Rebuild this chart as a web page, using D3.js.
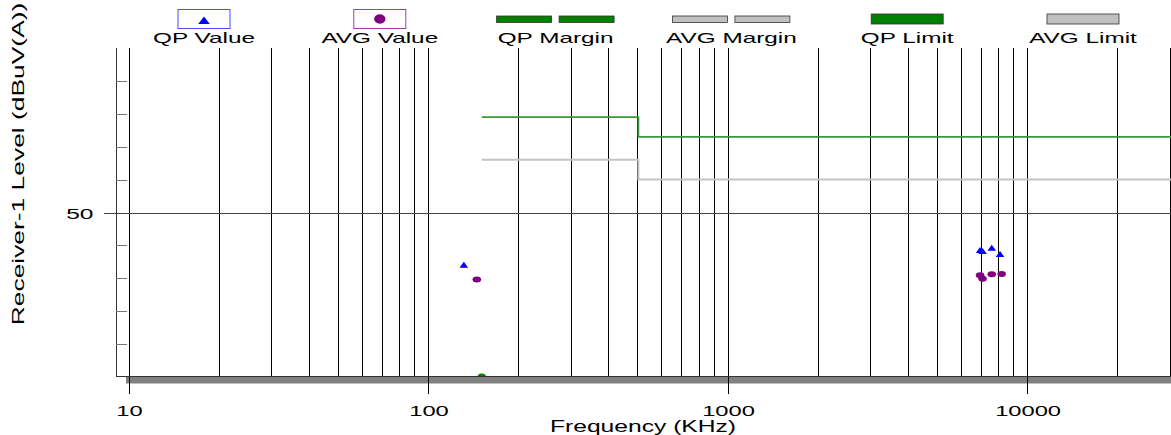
<!DOCTYPE html>
<html>

<head>
  <meta charset="utf-8">
  <title>Receiver level</title>
  <style>
    body {
      margin: 0;
      background-color: #fff;
      font-family: 'Liberation Sans', Arial, sans-serif;
    }

    svg text {
      fill: #000;
    }

    .grid line {
      stroke: #000;
      stroke-width: 1px;
      shape-rendering: crispEdges;
    }

    .limit {
      fill: none;
    }
  </style>
</head>

<body>
  <div id="chart"></div>
  <script src="https://d3js.org/d3.v7.min.js"></script>

  <script>
    // frequency in KHz, level in dBuV(A)
    var qpFreq = [130.7, 6914, 7048, 7563, 8060];
    var qpLevel = [34.1, 38.6, 38.3, 39.3, 37.4];

    var avgFreq = [144.4, 6914, 7048, 7563, 8160];
    var avgLevel = [29.6, 30.9, 29.9, 31.2, 31.3];

    var marginFreq = [150];
    var marginLevel = [0];

    // limit lines (step at 500 KHz)
    var limitFreq = [150, 500, 500, 30000];
    var qpLimit = [79, 79, 73, 73];
    var avgLimit = [66, 66, 60, 60];

    var xTickLabels = [10, 100, 1000, 10000];
    var yTickLabels = [50];
    var yMinorTicks = [10, 20, 30, 40, 60, 70, 80, 90];

    var legendLabels = ['QP Value', 'AVG Value', 'QP Margin', 'AVG Margin', 'QP Limit', 'AVG Limit'];

    var width = 1171,
      height = 435;

    // the text in the picture is drawn wide
    var stretch = 1.58;

    var svg = d3.select("#chart").append("svg")
      .attr("width", width)
      .attr("height", height);

    var x = d3.scaleLog()
      .domain([9, 30000])
      .range([115.8, 1171]);

    var y = d3.scaleLinear()
      .domain([0, 100])
      .range([377, 48]);

    // every 1..9 step of each decade gets a grid line
    var gridFreqs = [];
    xTickLabels.forEach(function(d) {
      for (var m = 1; m <= 9; m++) {
        if (d * m <= 30000) gridFreqs.push(d * m);
      }
    });

    // ****************** grid ***************************
    var grid = svg.append("g").attr("class", "grid");

    grid.selectAll("line.v")
      .data(gridFreqs)
      .enter().append("line")
      .attr("class", "v")
      .attr("x1", function(d) { return Math.round(x(d)) - 0.5; })
      .attr("x2", function(d) { return Math.round(x(d)) - 0.5; })
      .attr("y1", y(100))
      .attr("y2", y(0));

    grid.selectAll("line.h")
      .data(yTickLabels)
      .enter().append("line")
      .attr("class", "h")
      .style("stroke", "#444")
      .attr("x1", 104)
      .attr("x2", width)
      .attr("y1", function(d) { return Math.round(y(d)) + 0.5; })
      .attr("y2", function(d) { return Math.round(y(d)) + 0.5; });

    // ****************** limits ***************************
    var line = d3.line()
      .x(function(d) { return x(d[0]); })
      .y(function(d) { return y(d[1]); });

    svg.append("path")
      .attr("class", "limit")
      .attr("d", line(d3.zip(limitFreq, avgLimit)))
      .style("stroke", "#c4c4c4")
      .style("stroke-width", 2);

    svg.append("path")
      .attr("class", "limit")
      .attr("d", line(d3.zip(limitFreq, qpLimit)))
      .style("stroke", "#3a9a3a")
      .style("stroke-width", 1.8);

    // ****************** markers ***************************
    var tri = "M-4.3,3L4.3,3L0,-3Z";

    svg.selectAll("path.qp")
      .data(d3.zip(qpFreq, qpLevel))
      .enter().append("path")
      .attr("class", "qp")
      .attr("d", tri)
      .attr("transform", function(d) {
        return "translate(" + x(d[0]) + "," + y(d[1]) + ")";
      })
      .style("fill", "#0000ff");

    svg.selectAll("ellipse.avg")
      .data(d3.zip(avgFreq, avgLevel))
      .enter().append("ellipse")
      .attr("class", "avg")
      .attr("cx", function(d) { return x(d[0]); })
      .attr("cy", function(d) { return y(d[1]); })
      .attr("rx", 4.3)
      .attr("ry", 3)
      .style("fill", "#800080");

    svg.selectAll("ellipse.margin")
      .data(d3.zip(marginFreq, marginLevel))
      .enter().append("ellipse")
      .attr("class", "margin")
      .attr("cx", function(d) { return x(d[0]); })
      .attr("cy", function(d) { return y(d[1]); })
      .attr("rx", 4.3)
      .attr("ry", 3.5)
      .style("fill", "#008000");

    // ****************** frame and axes ***************************
    svg.append("rect")
      .attr("x", 126)
      .attr("y", y(0))
      .attr("width", width - 126)
      .attr("height", 6.5)
      .style("fill", "#808080");

    svg.append("line")
      .attr("x1", 116.5).attr("x2", 116.5)
      .attr("y1", y(100)).attr("y2", y(0))
      .style("stroke", "#333")
      .style("shape-rendering", "crispEdges");

    svg.append("line")
      .attr("x1", 116).attr("x2", width)
      .attr("y1", y(0) - 0.5).attr("y2", y(0) - 0.5)
      .style("stroke", "#333")
      .style("shape-rendering", "crispEdges");

    svg.selectAll("line.ytick")
      .data(yMinorTicks)
      .enter().append("line")
      .attr("class", "ytick")
      .attr("x1", 116)
      .attr("x2", 127)
      .attr("y1", function(d) { return Math.round(y(d)) + 0.5; })
      .attr("y2", function(d) { return Math.round(y(d)) + 0.5; })
      .style("stroke", "#777");

    svg.selectAll("line.xmajor")
      .data(xTickLabels)
      .enter().append("line")
      .attr("class", "xmajor")
      .attr("x1", function(d) { return Math.round(x(d)) - 0.5; })
      .attr("x2", function(d) { return Math.round(x(d)) - 0.5; })
      .attr("y1", y(0))
      .attr("y2", 394)
      .style("stroke", "#000")
      .style("shape-rendering", "crispEdges");

    // wide text helper
    function wideText(g, tx, ty, str, size, anchor) {
      return g.append("text")
        .attr("transform", "translate(" + tx + "," + ty + ") scale(" + stretch + ",1)")
        .attr("text-anchor", anchor)
        .style("font-size", size + "px")
        .text(str);
    }

    xTickLabels.forEach(function(d) {
      wideText(svg, x(d), 416, d, 15, "middle");
    });

    yTickLabels.forEach(function(d) {
      wideText(svg, 93.5, y(d) + 6, d, 15.5, "end");
    });

    wideText(svg, 643, 432, "Frequency (KHz)", 15.6, "middle");

    svg.append("text")
      .attr("transform", "translate(23.5,164) rotate(-90) scale(1.6,1)")
      .attr("text-anchor", "middle")
      .style("font-size", "16.5px")
      .text("Receiver-1 Level (dBuV(A))");

    // ****************** legend ***************************
    var legend = svg.append("g").attr("class", "legend");

    legendLabels.forEach(function(label, i) {
      var cx = 204 + i * 175.8;
      var g = legend.append("g");

      wideText(g, cx, 42.7, label, 15.4, "middle");

      if (i == 0 || i == 1) {
        g.append("rect")
          .attr("x", cx - 26)
          .attr("y", 9.5)
          .attr("width", 52)
          .attr("height", 19)
          .style("fill", "#fff")
          .style("stroke", i == 0 ? "#4a4aff" : "#a040a0");
        if (i == 0) {
          g.append("path")
            .attr("d", "M-5.8,3.7L5.8,3.7L0,-3.7Z")
            .attr("transform", "translate(" + cx + ",20.3)")
            .style("fill", "#0000ff");
        } else {
          g.append("ellipse")
            .attr("cx", cx)
            .attr("cy", 19)
            .attr("rx", 5.7)
            .attr("ry", 4.7)
            .style("fill", "#800080");
        }
      } else if (i == 2 || i == 3) {
        [-59, 3.5].forEach(function(off) {
          g.append("rect")
            .attr("x", cx + off)
            .attr("y", 16)
            .attr("width", 55)
            .attr("height", 6.5)
            .style("fill", i == 2 ? "#008000" : "#c0c0c0")
            .style("stroke", "#333")
            .style("stroke-width", 0.8);
        });
      } else {
        g.append("rect")
          .attr("x", cx - 36)
          .attr("y", 14)
          .attr("width", 72)
          .attr("height", 10)
          .style("fill", i == 4 ? "#008000" : "#c0c0c0")
          .style("stroke", "#333")
          .style("stroke-width", 0.8);
      }
    });
  </script>
</body>

</html>
